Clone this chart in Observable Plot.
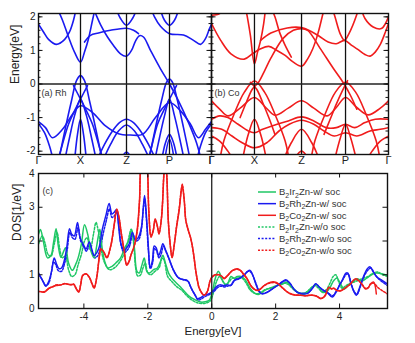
<!DOCTYPE html>
<html><head><meta charset="utf-8">
<script src="https://cdn.jsdelivr.net/npm/d3@7"></script>
<script src="https://cdn.jsdelivr.net/npm/@observablehq/plot@0.6"></script>
<style>
body{margin:0;background:#fff;}
#wrap{position:relative;width:415px;height:343px;overflow:hidden;font-family:"Liberation Sans",Arial,sans-serif;}
#wrap svg{position:absolute;}
</style></head><body><div id="wrap"></div>
<script>
// ---------- data ----------
const kTicks = [0, 42, 88, 131, 173];
const kLabels = ["Γ", "X", "Z", "P", "Γ"];
const eTicks = [-2, -1, 0, 1, 2];
const dosTicks = [0, 1, 2, 3, 4];
const energyTicks = [-4, -2, 0, 2, 4];

// B2Rh2Zn bands [k, E]
const rhBands = [
  [[0,1.78],[5,1.55],[10,1.33],[18,1.18],[26,1.32],[31,1.55],[35,1.9],[38,2.3]],
  [[18,2.3],[24,1.9],[30,1.4],[36,0.95],[42,0.65],[46,0.95],[50,1.35],[54,1.9],[57,2.3]],
  [[46,1.25],[52,1.45],[60,1.52],[72,1.6],[88,1.66],[95,1.6],[100,1.5]],
  [[77,2.3],[82,1.95],[88,1.75],[94,1.95],[99,2.3]],
  [[54,2.3],[57,2.1],[62,1.77],[69,1.4],[75,1.15],[82,0.9],[88,0.83],[93,1.0],[97,1.28],[101,1.44],[105,1.4],[112,1.0],[122,0.45],[131,0.0],[140,-0.5],[150,-1.15],[158,-1.75],[163,-2.3]],
  [[112,2.3],[116,2.0],[122,1.72],[131,1.5],[145,1.46],[155,1.3],[162,1.18],[167,1.35],[171,1.65],[173,1.78]],
  [[121,2.3],[126,1.9],[131,1.75],[136,1.9],[141,2.3]],
  [[0,-1.12],[7,-1.3],[14,-1.6],[24,-1.35],[34,-0.9],[42,-0.65],[54,-0.85],[67,-1.25],[80,-1.48],[92,-1.52],[104,-1.5],[117,-1.0],[131,-0.55],[142,-0.8],[152,-1.2],[160,-1.6],[167,-1.35],[173,-1.12]],
  [[0,-1.18],[6,-1.45],[11,-1.85],[15,-2.3]],
  [[173,-1.18],[167,-1.45],[162,-1.85],[158,-2.3]],
  [[58,-2.3],[66,-1.8],[74,-1.4],[81,-1.15],[88,-1.05],[95,-1.15],[102,-1.4],[110,-1.8],[118,-2.3]],
  [[64,-2.3],[72,-1.8],[80,-1.4],[88,-1.22],[96,-1.4],[104,-1.8],[112,-2.3]],
  [[83,-2.2],[88,-2.03],[93,-2.2]],
  [[20,-2.3],[27,-1.3],[33,-0.5],[38,0.1],[42,0.25],[46,0.1],[51,-0.5],[57,-1.3],[64,-2.3]],
  [[26,-2.3],[31,-1.6],[36,-0.95],[42,-0.45],[48,-0.95],[53,-1.6],[58,-2.3]],
  [[35,-0.05],[42,-0.45],[48,-0.8],[54,-1.2],[62,-2.0],[65,-2.3]],
  [[49,-0.05],[42,-0.45],[36,-0.8],[30,-1.2],[22,-2.0],[19,-2.3]],
  [[36,-2.3],[39,-1.5],[42,-1.05],[45,-1.5],[48,-2.3]],
  [[110,-2.3],[117,-1.3],[123,-0.5],[128,0.05],[131,0.15],[134,0.05],[139,-0.5],[145,-1.3],[152,-2.3]],
  [[116,-2.3],[121,-1.6],[126,-0.95],[131,-0.45],[136,-0.95],[141,-1.6],[146,-2.3]],
  [[138,-0.05],[131,-0.45],[125,-0.8],[119,-1.2],[112,-2.0],[109,-2.3]],
  [[123,-2.3],[127,-1.75],[131,-1.5],[135,-1.75],[139,-2.3]],
  [[126,-2.3],[131,-1.65],[136,-2.3]]
];

// B2Co2Zn bands [k, E]
const coBands = [
  [[0,2.05],[8,2.1],[14,2.3]],
  [[0,1.8],[9,1.3],[19,0.9],[32,0.74],[40,0.9],[48,1.05],[56,1.12],[64,1.0],[72,0.85],[80,0.65],[88,0.53],[94,0.75],[99,1.05],[104,1.5],[109,2.1],[111,2.3]],
  [[58,2.3],[62,2.0],[67,1.5],[72,1.15],[78,0.8]],
  [[33,2.3],[35,2.0],[38,1.45],[42,0.6],[45,0.95],[48,1.3],[51,1.8],[53,2.3]],
  [[48,1.3],[58,1.52],[74,1.67],[88,1.68],[97,1.57],[105,1.43],[114,1.25],[122,1.2],[130,1.3],[137,1.15],[143,1.03],[150,0.88],[155,0.83],[160,0.95],[165,1.18],[170,1.55],[173,1.8]],
  [[28,-1.0],[34,-0.55],[40,-0.15],[46,0.05],[52,0.4],[58,0.77],[70,1.36],[80,1.6],[88,1.65],[94,1.6],[106,1.07],[119,0.47],[129,0.03],[136,-0.35],[142,-0.75]],
  [[117,2.3],[120,2.07],[126,1.48],[130,1.3],[134,1.48],[142,2.07],[144,2.3]],
  [[146,2.3],[150,1.95],[158,1.7],[166,1.65],[173,2.0]],
  [[0,-0.5],[8,-0.75],[16,-0.95],[28,-0.72],[42,-0.4],[53,-0.7],[62,-0.93],[75,-0.72],[88,-0.5],[100,-0.72],[113,-0.95],[122,-0.7],[131,-0.4],[142,-0.7],[153,-0.92],[165,-0.72],[173,-0.5]],
  [[0,-1.05],[8,-0.95],[16,-1.0],[26,-1.2],[36,-1.4],[42,-1.45],[50,-1.35],[62,-1.22],[75,-1.1],[88,-0.98],[100,-1.1],[112,-1.3],[122,-1.3],[131,-1.2],[140,-1.3],[150,-1.15],[160,-1.05],[173,-1.05]],
  [[0,-1.3],[10,-1.35],[20,-1.55],[30,-1.75],[42,-1.9],[54,-1.75],[66,-1.4],[76,-1.2],[88,-1.08],[100,-1.2],[110,-1.4],[120,-1.55],[131,-1.45],[142,-1.55],[155,-1.4],[165,-1.35],[173,-1.3]],
  [[0,-1.55],[8,-1.7],[16,-2.0],[22,-2.3]],
  [[173,-1.55],[165,-1.7],[157,-2.0],[151,-2.3]],
  [[8,-2.3],[12,-1.7],[22,-0.9],[32,-0.25],[42,0.09],[52,-0.25],[62,-0.9],[72,-1.7],[76,-2.3]],
  [[97,-2.3],[101,-1.7],[111,-0.9],[121,-0.25],[131,0.05],[141,-0.25],[151,-0.9],[161,-1.7],[165,-2.3]],
  [[30,-2.3],[36,-1.5],[42,-1.05],[48,-1.5],[54,-2.3]],
  [[120,-2.3],[126,-1.6],[131,-1.2],[136,-1.6],[142,-2.3]],
  [[70,-2.3],[78,-1.75],[88,-1.35],[98,-1.75],[106,-2.3]],
  [[80,-2.3],[88,-2.0],[96,-2.3]],
  [[38,0.05],[44,-0.15],[50,-0.55],[56,-1.0],[62,-1.5]],
  [[133,0.1],[128,-0.2],[122,-0.6],[116,-1.05],[110,-1.5]]
];

// DOS [E, DOS]
const irSoc = [[-5.5,2.0],[-5.42,2.2],[-5.36,2.34],[-5.28,2.05],[-5.2,1.65],[-5.14,1.5],[-5.03,1.57],[-4.95,1.95],[-4.87,2.36],[-4.8,1.85],[-4.72,1.52],[-4.63,1.7],[-4.57,1.8],[-4.48,1.35],[-4.36,1.13],[-4.26,1.3],[-4.18,1.5],[-4.08,1.9],[-3.98,2.48],[-3.88,2.2],[-3.78,1.7],[-3.68,1.5],[-3.6,1.85],[-3.5,2.35],[-3.43,1.8],[-3.35,1.4],[-3.25,1.2],[-3.12,1.25],[-3.0,1.35],[-2.85,1.5],[-2.72,1.8],[-2.6,2.0],[-2.5,2.32],[-2.42,1.8],[-2.34,1.1],[-2.27,1.05],[-2.18,1.3],[-2.11,1.5],[-2.03,1.1],[-1.95,1.05],[-1.82,1.15],[-1.7,1.2],[-1.6,1.4],[-1.53,1.58],[-1.45,1.35],[-1.35,1.05],[-1.25,0.9],[-1.1,0.75],[-0.97,0.63],[-0.8,0.45],[-0.66,0.33],[-0.5,0.25],[-0.34,0.19],[-0.2,0.2],[-0.08,0.24],[0.02,0.5],[0.1,0.85],[0.2,1.1],[0.25,1.05],[0.33,0.85],[0.42,0.72],[0.5,0.75],[0.6,0.95],[0.7,0.9],[0.8,0.95],[0.92,0.95],[1.05,0.85],[1.2,0.6],[1.35,0.45],[1.48,0.42],[1.6,0.5],[1.75,0.58],[1.9,0.62],[2.05,0.68],[2.2,0.72],[2.36,0.78],[2.5,0.65],[2.63,0.52],[2.8,0.43],[2.95,0.45],[3.1,0.6],[3.25,0.7],[3.35,0.65],[3.46,0.48],[3.6,0.5],[3.7,0.62],[3.82,0.83],[3.92,0.9],[4.02,0.75],[4.14,0.58],[4.28,0.7],[4.4,0.78],[4.55,0.88],[4.7,0.82],[4.85,0.9],[5.0,1.0],[5.15,1.05],[5.33,1.03],[5.5,0.98]];
const rhSoc = [[-5.5,1.13],[-5.42,1.05],[-5.35,0.93],[-5.25,0.75],[-5.19,0.66],[-5.1,0.8],[-5.0,1.15],[-4.93,1.5],[-4.85,1.3],[-4.78,1.18],[-4.7,1.2],[-4.61,1.43],[-4.53,1.85],[-4.45,2.36],[-4.38,2.2],[-4.3,2.15],[-4.2,2.55],[-4.12,2.1],[-4.02,1.9],[-3.93,1.77],[-3.83,1.97],[-3.75,1.75],[-3.68,1.57],[-3.6,1.65],[-3.52,1.82],[-3.42,2.36],[-3.31,2.76],[-3.21,3.11],[-3.12,2.8],[-3.05,2.85],[-2.98,2.93],[-2.92,2.5],[-2.84,1.92],[-2.74,1.72],[-2.66,1.8],[-2.58,1.92],[-2.48,2.26],[-2.4,2.05],[-2.3,2.1],[-2.2,2.4],[-2.14,3.0],[-2.1,3.35],[-2.04,2.7],[-1.98,1.8],[-1.93,1.23],[-1.86,1.4],[-1.8,1.85],[-1.74,1.8],[-1.66,1.57],[-1.6,1.7],[-1.53,1.92],[-1.45,1.75],[-1.35,1.52],[-1.2,1.15],[-1.05,0.92],[-0.9,0.86],[-0.76,0.83],[-0.65,0.62],[-0.52,0.4],[-0.45,0.29],[-0.35,0.32],[-0.24,0.39],[-0.08,0.44],[0.07,0.55],[0.15,0.65],[0.25,0.7],[0.39,0.68],[0.5,0.7],[0.59,0.68],[0.7,0.83],[0.85,0.88],[1.0,0.98],[1.12,1.1],[1.2,1.13],[1.28,1.0],[1.38,0.73],[1.48,0.5],[1.58,0.43],[1.74,0.48],[1.9,0.58],[2.05,0.68],[2.2,0.78],[2.31,0.85],[2.42,0.78],[2.57,0.58],[2.7,0.47],[2.85,0.43],[3.0,0.45],[3.15,0.6],[3.25,0.73],[3.35,0.65],[3.48,0.55],[3.61,0.48],[3.77,0.34],[3.9,0.5],[4.0,0.7],[4.08,0.83],[4.2,1.05],[4.26,1.05],[4.35,0.75],[4.45,0.5],[4.52,0.39],[4.62,0.6],[4.75,0.95],[4.87,1.18],[4.95,1.24],[5.05,1.1],[5.15,0.95],[5.33,0.83],[5.5,0.73]];
const coSoc = [[-5.5,0.5],[-5.35,0.5],[-5.24,0.48],[-5.09,0.6],[-4.95,0.65],[-4.87,0.68],[-4.72,0.7],[-4.6,0.73],[-4.5,0.72],[-4.4,0.7],[-4.32,0.72],[-4.25,0.6],[-4.16,0.48],[-4.1,0.7],[-4.04,0.97],[-3.93,1.03],[-3.83,0.93],[-3.75,0.75],[-3.68,0.6],[-3.6,0.9],[-3.52,1.5],[-3.47,1.77],[-3.38,1.68],[-3.28,1.52],[-3.15,1.9],[-3.05,2.5],[-2.97,2.95],[-2.9,2.7],[-2.84,2.3],[-2.74,1.72],[-2.66,1.28],[-2.58,1.4],[-2.53,1.57],[-2.42,1.87],[-2.33,2.35],[-2.26,3.2],[-2.2,4.3],[-2.1,4.5],[-2.03,4.3],[-1.97,2.9],[-1.9,2.11],[-1.83,2.3],[-1.77,2.66],[-1.7,2.45],[-1.65,2.2],[-1.58,2.6],[-1.54,3.1],[-1.5,3.9],[-1.45,4.5],[-1.4,3.8],[-1.36,2.6],[-1.3,1.9],[-1.24,1.5],[-1.17,1.9],[-1.1,2.4],[-1.02,2.9],[-0.95,3.5],[-0.92,3.64],[-0.86,3.2],[-0.81,2.6],[-0.73,2.3],[-0.66,2.1],[-0.6,1.82],[-0.55,1.5],[-0.5,1.13],[-0.44,0.8],[-0.4,0.63],[-0.3,0.45],[-0.24,0.39],[-0.14,0.49],[-0.05,0.83],[0.02,0.95],[0.1,1.0],[0.23,1.0],[0.32,0.95],[0.39,0.88],[0.5,0.98],[0.65,1.13],[0.8,1.18],[0.9,1.13],[1.0,1.02],[1.1,0.9],[1.22,0.68],[1.32,0.58],[1.43,0.53],[1.55,0.6],[1.64,0.68],[1.84,0.78],[2.0,0.78],[2.1,0.72],[2.2,0.63],[2.35,0.5],[2.47,0.43],[2.6,0.4],[2.78,0.39],[2.95,0.38],[3.1,0.39],[3.25,0.38],[3.35,0.32],[3.41,0.29],[3.5,0.33],[3.56,0.39],[3.62,0.55],[3.67,0.63],[3.75,0.58],[3.82,0.6],[3.92,0.53],[4.03,0.53],[4.14,0.58],[4.25,0.66],[4.34,0.73],[4.45,0.85],[4.52,0.88],[4.6,0.83],[4.7,0.72],[4.81,0.58],[4.9,0.62],[4.97,0.73],[5.07,0.78],[5.12,0.65],[5.15,0.43]];
const irNoSoc = [[-5.5,1.4],[-5.42,1.9],[-5.3,2.15],[-5.22,1.95],[-5.12,1.6],[-5.03,1.55],[-4.93,1.9],[-4.84,2.25],[-4.76,1.8],[-4.68,1.5],[-4.58,1.55],[-4.48,1.15],[-4.38,0.95],[-4.28,1.0],[-4.18,1.3],[-4.08,1.6],[-3.98,2.0],[-3.9,2.1],[-3.8,1.75],[-3.7,2.2],[-3.62,2.55],[-3.55,2.3],[-3.45,1.7],[-3.35,1.35],[-3.2,1.15],[-3.05,1.2],[-2.9,1.35],[-2.75,1.6],[-2.62,2.0],[-2.52,2.35],[-2.44,1.9],[-2.38,1.2],[-2.32,0.97],[-2.24,0.98],[-2.15,1.2],[-2.08,1.35],[-2.0,1.05],[-1.9,1.0],[-1.78,1.1],[-1.65,1.2],[-1.55,1.5],[-1.48,1.4],[-1.38,0.95],[-1.25,0.8],[-1.1,0.65],[-0.95,0.55],[-0.8,0.4],[-0.62,0.25],[-0.45,0.17],[-0.3,0.15],[-0.15,0.17],[-0.05,0.22],[0.05,0.45],[0.15,0.8],[0.25,0.95],[0.35,0.8],[0.45,0.7],[0.55,0.8],[0.65,0.9],[0.75,0.88],[0.85,0.92],[0.95,0.9],[1.08,0.75],[1.2,0.55],[1.35,0.45],[1.5,0.45],[1.65,0.55],[1.8,0.6],[1.95,0.65],[2.1,0.7],[2.25,0.75],[2.38,0.72],[2.52,0.6],[2.65,0.5],[2.8,0.45],[2.95,0.48],[3.1,0.6],[3.22,0.68],[3.32,0.62],[3.45,0.5],[3.58,0.55],[3.7,0.75],[3.8,0.95],[3.88,1.0],[3.97,0.8],[4.08,0.6],[4.2,0.68],[4.35,0.75],[4.5,0.8],[4.62,0.85],[4.75,0.9],[4.9,0.95],[5.05,1.05],[5.2,1.08],[5.35,1.0],[5.5,0.95]];
const rhNoSoc = [[-5.5,1.05],[-5.4,0.98],[-5.3,0.85],[-5.2,0.68],[-5.1,0.75],[-5.02,1.05],[-4.95,1.38],[-4.88,1.3],[-4.8,1.12],[-4.7,1.1],[-4.6,1.35],[-4.52,1.75],[-4.44,2.25],[-4.36,2.1],[-4.28,2.05],[-4.18,2.4],[-4.1,2.0],[-4.0,1.82],[-3.92,1.7],[-3.82,1.88],[-3.74,1.68],[-3.66,1.5],[-3.58,1.55],[-3.5,1.72],[-3.4,2.2],[-3.3,2.6],[-3.2,2.95],[-3.12,2.7],[-3.04,2.75],[-2.97,2.85],[-2.9,2.4],[-2.83,1.85],[-2.74,1.65],[-2.65,1.72],[-2.57,1.85],[-2.47,2.2],[-2.38,2.0],[-2.28,2.05],[-2.2,2.35],[-2.14,2.95],[-2.1,3.25],[-2.04,2.6],[-1.98,1.7],[-1.92,1.18],[-1.85,1.35],[-1.79,1.78],[-1.73,1.72],[-1.65,1.5],[-1.58,1.62],[-1.51,1.85],[-1.43,1.68],[-1.33,1.45],[-1.18,1.1],[-1.03,0.9],[-0.88,0.85],[-0.74,0.8],[-0.63,0.58],[-0.5,0.36],[-0.43,0.25],[-0.33,0.28],[-0.22,0.35],[-0.06,0.42],[0.09,0.52],[0.18,0.62],[0.28,0.66],[0.4,0.64],[0.52,0.67],[0.62,0.7],[0.73,0.85],[0.88,0.9],[1.02,1.0],[1.14,1.1],[1.22,1.08],[1.3,0.95],[1.4,0.7],[1.5,0.5],[1.6,0.45],[1.76,0.5],[1.92,0.6],[2.07,0.7],[2.22,0.8],[2.33,0.82],[2.44,0.75],[2.58,0.56],[2.72,0.46],[2.87,0.45],[3.02,0.47],[3.17,0.62],[3.27,0.72],[3.37,0.63],[3.5,0.53],[3.63,0.47],[3.78,0.38],[3.92,0.55],[4.02,0.72],[4.1,0.85],[4.22,1.02],[4.28,1.0],[4.37,0.72],[4.47,0.48],[4.55,0.42],[4.65,0.65],[4.78,0.98],[4.9,1.15],[4.98,1.2],[5.08,1.05],[5.2,0.9],[5.35,0.78],[5.5,0.68]];
const coNoSoc = [[-5.5,0.52],[-5.35,0.5],[-5.24,0.5],[-5.09,0.6],[-4.95,0.66],[-4.87,0.7],[-4.72,0.7],[-4.6,0.74],[-4.5,0.72],[-4.4,0.71],[-4.32,0.72],[-4.25,0.62],[-4.16,0.5],[-4.1,0.72],[-4.04,0.98],[-3.93,1.02],[-3.83,0.92],[-3.75,0.74],[-3.68,0.62],[-3.6,0.92],[-3.52,1.52],[-3.47,1.76],[-3.38,1.66],[-3.28,1.5],[-3.15,1.88],[-3.05,2.48],[-2.97,2.92],[-2.9,2.68],[-2.84,2.28],[-2.74,1.7],[-2.66,1.3],[-2.58,1.42],[-2.53,1.58],[-2.42,1.86],[-2.33,2.3],[-2.26,3.15],[-2.2,4.3],[-2.1,4.5],[-2.03,4.3],[-1.97,2.95],[-1.9,2.15],[-1.83,2.32],[-1.77,2.62],[-1.7,2.42],[-1.65,2.22],[-1.58,2.62],[-1.54,3.12],[-1.5,3.95],[-1.45,4.5],[-1.4,3.85],[-1.36,2.65],[-1.3,1.92],[-1.24,1.52],[-1.17,1.92],[-1.1,2.45],[-1.02,2.95],[-0.95,3.55],[-0.92,3.68],[-0.86,3.22],[-0.81,2.62],[-0.73,2.32],[-0.66,2.08],[-0.6,1.8],[-0.55,1.48],[-0.5,1.1],[-0.44,0.78],[-0.4,0.62],[-0.3,0.44],[-0.24,0.4],[-0.14,0.5],[-0.05,0.82],[0.02,0.94],[0.1,0.98],[0.23,1.0],[0.32,0.94],[0.39,0.9],[0.5,0.98],[0.65,1.12],[0.8,1.16],[0.9,1.12],[1.0,1.0],[1.1,0.88],[1.22,0.68],[1.32,0.58],[1.43,0.54],[1.55,0.6],[1.64,0.68],[1.84,0.76],[2.0,0.76],[2.1,0.7],[2.2,0.62],[2.35,0.5],[2.47,0.44],[2.6,0.4],[2.78,0.4],[2.95,0.38],[3.1,0.4],[3.25,0.38],[3.35,0.33],[3.41,0.3],[3.5,0.34],[3.56,0.42],[3.62,0.56],[3.67,0.62],[3.75,0.58],[3.82,0.6],[3.92,0.54],[4.03,0.52],[4.14,0.58],[4.25,0.66],[4.34,0.72],[4.45,0.84],[4.52,0.86],[4.6,0.82],[4.7,0.72],[4.81,0.6],[4.9,0.62],[4.97,0.72],[5.07,0.75],[5.2,0.62],[5.35,0.52],[5.5,0.43]];

const seriesNames = [["B","2","Ir","2","Zn-w/ soc"],["B","2","Rh","2","Zn-w/ soc"],["B","2","Co","2","Zn-w/ soc"],["B","2","Ir","2","Zn-w/o soc"],["B","2","Rh","2","Zn-w/o soc"],["B","2","Co","2","Zn-w/o soc"]];
const seriesData = [irSoc, rhSoc, coSoc, irNoSoc, rhNoSoc, coNoSoc];

// ---------- styles ----------
const GREEN = "#1fc765", BLUE = "#1a1af0", RED = "#f01c1c";
const seriesColor = [GREEN, BLUE, RED, GREEN, BLUE, RED];
const seriesDash = [null, null, null, "2,1.6", "2,1.6", "2,1.6"];
const FONT = "'Liberation Sans', Arial, sans-serif";
const wrap = document.getElementById("wrap");

function bandPanel({bands, color, label, left, width, mL, mR, showY}) {
  const plotW = width - mL - mR;
  const u = 173 / plotW; // data units per pixel
  const rows = bands.flatMap((b, i) => b.map(([k, E]) => ({k, E, band: i})));
  const minor = d3.range(-2.0, 2.01, 0.2).map(v => Math.round(v * 10) / 10);
  const marks = [
    Plot.line(rows, {x: "k", y: "E", z: "band", stroke: color, strokeWidth: 1.6, curve: "catmull-rom", clip: true}),
    Plot.ruleX(kTicks.slice(1, -1), {stroke: "#111", strokeWidth: 1.3}),
    Plot.ruleY([0], {stroke: "#222", strokeWidth: 1.3}),
    Plot.ruleY(eTicks, {x1: 0, x2: 4.5 * u, stroke: "#111"}),
    Plot.ruleY(eTicks, {x1: 173 - 4.5 * u, x2: 173, stroke: "#111"}),
    Plot.ruleY(minor, {x1: 0, x2: 2.5 * u, stroke: "#111"}),
    Plot.ruleY(minor, {x1: 173 - 2.5 * u, x2: 173, stroke: "#111"}),
    Plot.frame({stroke: "#111", strokeWidth: 1.4}),
    Plot.text(kLabels, {x: kTicks, text: d => d, frameAnchor: "bottom", dy: 9, fontSize: 11, fill: "#222"}),
    Plot.text([label], {text: d => d, frameAnchor: "left", dx: 3, dy: 9, textAnchor: "start", fontSize: 9, fill: "#333"})
  ];
  if (showY) {
    marks.push(
      Plot.text(eTicks, {x: 0, y: d => d, text: d => String(d), textAnchor: "end", dx: -3, fontSize: 10, fill: "#222"}),
      Plot.text(["Energy[eV]"], {text: d => d, frameAnchor: "left", rotate: -90, dx: -23, fontSize: 12, fill: "#222"})
    );
  }
  const svg = Plot.plot({
    width, height: 172, marginLeft: mL, marginRight: mR, marginTop: 13, marginBottom: 18,
    style: {fontFamily: FONT, background: "transparent", overflow: "visible"},
    x: {domain: [0, 173], axis: null},
    y: {domain: [-2.1, 2.1], axis: null},
    marks
  });
  svg.style.left = left + "px";
  svg.style.top = "0px";
  wrap.appendChild(svg);
}

bandPanel({bands: rhBands, color: BLUE, label: "(a) Rh", left: 0, width: 212, mL: 38, mR: 1, showY: true});
bandPanel({bands: coBands, color: RED, label: "(b) Co", left: 210, width: 205, mL: 1, mR: 27, showY: false});

// DOS panel
(function () {
  const width = 415, height = 183, mL = 38, mR = 28, mT = 13, mB = 35;
  const xDom = [-5.42, 5.5];
  const ux = (xDom[1] - xDom[0]) / (width - mL - mR);
  const uy = 4 / (height - mT - mB);
  const rows = seriesData.flatMap((s, i) => s.map(([E, D]) => ({E, D, s: i})));
  const marks = [];
  [3, 4, 5, 0, 1, 2].forEach(i => {
    marks.push(Plot.line(rows.filter(r => r.s === i), {x: "E", y: "D", stroke: seriesColor[i], strokeWidth: 1.5,
      strokeDasharray: seriesDash[i], curve: "catmull-rom", clip: true}));
  });
  marks.push(
    Plot.ruleX([0], {stroke: "#222", strokeWidth: 1.3}),
    Plot.ruleY(dosTicks, {x1: xDom[0], x2: xDom[0] + 4.5 * ux, stroke: "#111"}),
    Plot.ruleY(dosTicks, {x1: xDom[1] - 4.5 * ux, x2: xDom[1], stroke: "#111"}),
    Plot.ruleX(energyTicks, {y1: 0, y2: 4.5 * uy, stroke: "#111"}),
    Plot.ruleX(energyTicks, {y1: 4 - 4.5 * uy, y2: 4, stroke: "#111"}),
    Plot.frame({stroke: "#111", strokeWidth: 1.4}),
    Plot.text(dosTicks, {x: xDom[0], y: d => d, text: d => String(d), textAnchor: "end", dx: -4, fontSize: 10, fill: "#222"}),
    Plot.text(energyTicks, {x: d => d, y: 0, text: d => String(d), dy: 8, fontSize: 10, fill: "#222"}),
    Plot.text(["Energy[eV]"], {text: d => d, frameAnchor: "bottom", dy: 26, fontSize: 11.5, fill: "#222"}),
    Plot.text(["DOS[1/eV]"], {text: d => d, frameAnchor: "left", rotate: -90, dx: -21, fontSize: 12, fill: "#222"}),
    Plot.text(["(c)"], {text: d => d, frameAnchor: "top-left", dx: 4, dy: 14, textAnchor: "start", fontSize: 9, fill: "#333"})
  );
  const svg = Plot.plot({
    width, height, marginLeft: mL, marginRight: mR, marginTop: mT, marginBottom: mB,
    style: {fontFamily: FONT, background: "transparent", overflow: "visible"},
    x: {domain: xDom, axis: null},
    y: {domain: [0, 4], axis: null},
    marks
  });
  svg.style.left = "0px";
  svg.style.top = "160px";
  wrap.appendChild(svg);

  // legend
  const g = d3.select(svg).append("g").attr("font-family", FONT).attr("font-size", 9.5)
    .attr("fill", "#333").attr("text-anchor", "start");
  seriesNames.forEach((parts, i) => {
    const y = 32 + i * 11.65;
    g.append("line").attr("x1", 258).attr("x2", 276).attr("y1", y).attr("y2", y)
      .attr("stroke", seriesColor[i]).attr("stroke-width", 1.5)
      .attr("stroke-dasharray", seriesDash[i]);
    const t = g.append("text").attr("x", 279).attr("y", y + 3.4).attr("text-anchor", "start");
    parts.forEach((p, j) => {
      const sub = j % 2 === 1;
      const ts = t.append("tspan").text(p);
      if (sub) ts.attr("font-size", 7).attr("dy", 2.2);
      else if (j > 0) ts.attr("dy", -2.2);
    });
  });
})();
</script></body></html>
